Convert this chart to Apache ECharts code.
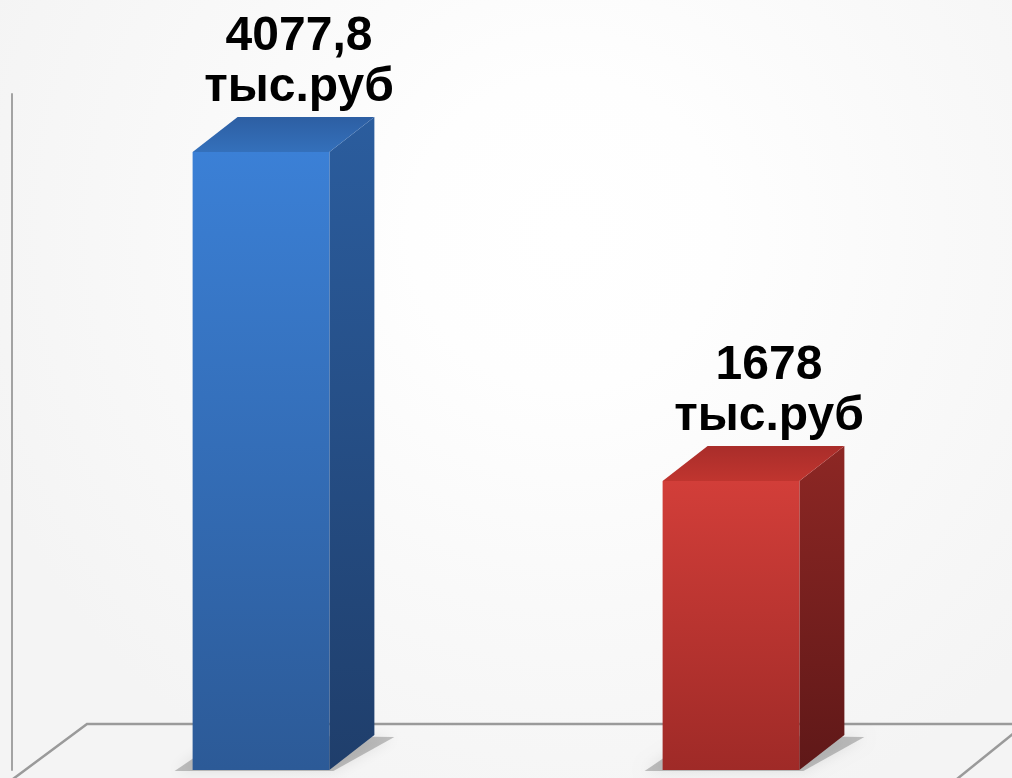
<!DOCTYPE html>
<html>
<head>
<meta charset="utf-8">
<script src="https://cdn.jsdelivr.net/npm/echarts@6/dist/echarts.min.js"></script>
<style>
html,body{margin:0;padding:0;width:1012px;height:778px;overflow:hidden;background:#f7f7f7;}
#chart{width:1012px;height:778px;}
</style>
</head>
<body>
<div id="chart"></div>
<script>
// ---- data ----
const categories = ['Показатель 1', 'Показатель 2'];
const values = [4077.8, 1678];
const valueLabels = ['4077,8', '1678'];
const unitLabel = 'тыс.руб';

const yMin = -430, yMax = 4500;
const palettes = [
  {front: ['#3b80d6', '#2c5a97'], side: ['#2b5d9e', '#1f3e6b'], top: ['#2d5fa3', '#3470bb']},
  {front: ['#d23e39', '#9f2a27'], side: ['#8d2724', '#5f1818'], top: ['#a92d2a', '#c0352f']}
];

const chart = echarts.init(document.getElementById('chart'));
const option = {
  animation: false,
  backgroundColor: {
    type: 'radial', x: 0.56, y: 0.3, r: 0.8,
    colorStops: [
      {offset: 0, color: '#ffffff'},
      {offset: 0.25, color: '#fefefe'},
      {offset: 0.6, color: '#f9f9f9'},
      {offset: 1, color: '#f4f4f4'}
    ]
  },
  grid: {left: 26, right: 46, top: 94, bottom: 8},
  xAxis: {
    type: 'category', data: categories,
    axisLine: {show: false}, axisTick: {show: false}, axisLabel: {show: false}
  },
  yAxis: {
    type: 'value', min: yMin, max: yMax, offset: 14,
    splitLine: {show: false}, axisTick: {show: false}, axisLabel: {show: false},
    axisLine: {show: true, lineStyle: {color: '#a3a3a3', width: 2}}
  },
  graphic: [
    {type: 'polyline', z: 0, silent: true,
     shape: {points: [[13, 779], [87, 724], [1014, 724]]},
     style: {stroke: '#9a9a9a', lineWidth: 2.5, fill: null}},
    {type: 'polyline', z: 0, silent: true,
     shape: {points: [[1014, 733], [957, 779]]},
     style: {stroke: '#9a9a9a', lineWidth: 2.5, fill: null}}
  ],
  series: [{
    type: 'custom',
    clip: false,
    data: values.map((v, i) => [i, v]),
    renderItem: function (params, api) {
      const i = api.value(0), v = api.value(1);
      const top = api.coord([i, v]);
      const base = api.coord([i, yMin]);
      const bw = api.size([1, 0])[0] * 0.291;
      const l = top[0] - bw / 2, r = top[0] + bw / 2;
      const dx = 45, dy = -35;
      const p = palettes[params.dataIndex];
      const vg = (c) => new echarts.graphic.LinearGradient(0, 0, 0, 1, [{offset: 0, color: c[0]}, {offset: 1, color: c[1]}]);
      return {
        type: 'group',
        children: [
          {type: 'polygon', shape: {points: [[l - 18, base[1] + 1], [r + 4, base[1] + 1], [r + dx + 20, base[1] + dy + 2], [l + dx - 10, base[1] + dy]]},
           style: {fill: 'rgba(0,0,0,0.22)', shadowBlur: 14, shadowColor: 'rgba(0,0,0,0.4)'}},
          {type: 'polygon', shape: {points: [[r, top[1]], [r + dx, top[1] + dy], [r + dx, base[1] + dy], [r, base[1]]]},
           style: {fill: vg(p.side)}},
          {type: 'polygon', shape: {points: [[l, top[1]], [l + dx, top[1] + dy], [r + dx, top[1] + dy], [r, top[1]]]},
           style: {fill: new echarts.graphic.LinearGradient(0, 0, 0, 1, [{offset: 0, color: p.top[0]}, {offset: 1, color: p.top[1]}])}},
          {type: 'rect', shape: {x: l, y: top[1], width: bw, height: base[1] - top[1]},
           style: {fill: vg(p.front)}},
          {type: 'text', z2: 10,
           style: {
             text: valueLabels[params.dataIndex] + '\n' + unitLabel,
             x: top[0] + 38, y: top[1] + dy - 4,
             align: 'center', verticalAlign: 'bottom',
             font: 'bold 48px "Liberation Sans", Arial, sans-serif',
             lineHeight: 51, fill: '#000000'
           }}
        ]
      };
    }
  }]
};
chart.setOption(option);
</script>
</body>
</html>
